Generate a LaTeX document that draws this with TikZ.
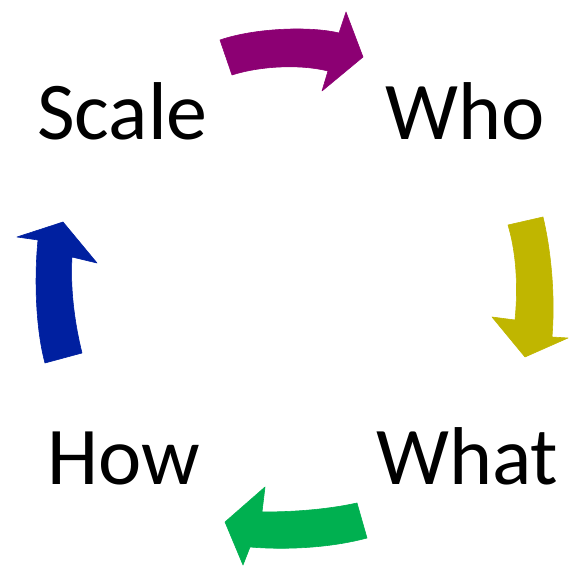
\documentclass[tikz,border=0pt]{standalone}
\usepackage{fontspec}
\setmainfont{Carlito}
\definecolor{mypurple}{RGB}{140, 0, 115}
\definecolor{myyellow}{RGB}{192, 182, 0}
\definecolor{mygreen}{RGB}{0, 176, 80}
\definecolor{myblue}{RGB}{0, 32, 160}

\begin{document}
\begin{tikzpicture}[x=1pt, y=-1pt,
    word/.style={inner sep=0pt, anchor=base west, font=\fontsize{82}{98}\selectfont},
    blockarrow/.style={draw=#1, fill=#1, line width=0.6pt, line join=round}]

    \useasboundingbox (0,0) rectangle (571,569);

    % Words of the cycle
    \node[word] (scale) at (37,140) {Scale};
    \node[word] (who) at (385,140) {Who};
    \node[word] (what) at (376,485) {What};
    \node[word] (how) at (47,485) {How};

    % Scale -> Who
    \path[blockarrow=mypurple] (220,40)
        .. controls (255,28) and (310,26) .. (339,33)
        -- (346,12) -- (363,57) -- (322,91) -- (328,71)
        .. controls (300,64) and (260,66) .. (232,75) -- cycle;

    % Who -> What
    \path[blockarrow=myyellow] (508,225) -- (543,217)
        .. controls (552,255) and (555,300) .. (552,337)
        -- (568,338) -- (525,357) -- (492,317) -- (515,320)
        .. controls (518,290) and (517,255) .. (508,225) -- cycle;

    % What -> How
    \path[blockarrow=mygreen] (357,503) -- (367,538)
        .. controls (330,548) and (285,550) .. (250,547)
        -- (243,565) -- (225,522) -- (265,487) -- (262,512)
        .. controls (290,512) and (325,510) .. (357,503) -- cycle;

    % How -> Scale
    \path[blockarrow=myblue] (45,363) -- (82,353)
        .. controls (75,325) and (70,290) .. (72,257)
        -- (97,263) -- (63,222) -- (17,237) -- (38,240)
        .. controls (34,280) and (36,330) .. (45,363) -- cycle;

\end{tikzpicture}
\end{document}
